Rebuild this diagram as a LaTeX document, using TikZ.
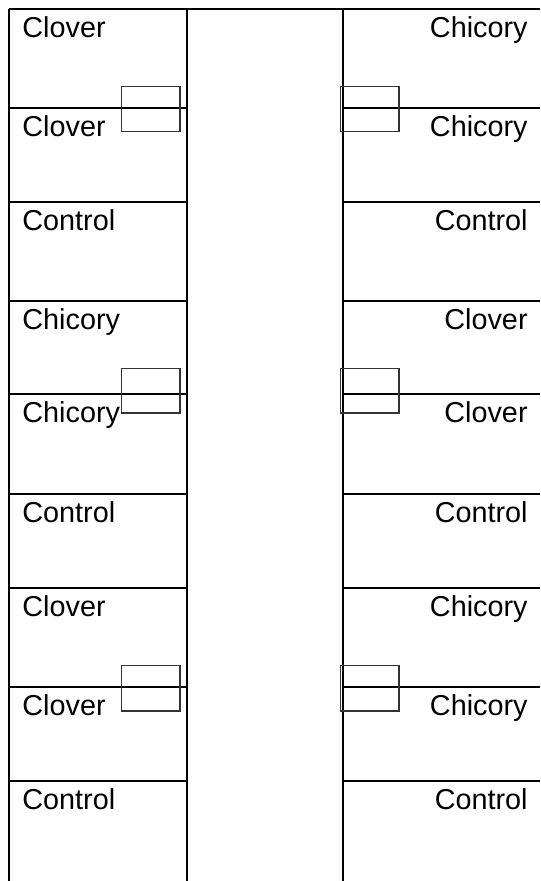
\documentclass[tikz,border=0pt]{standalone}
\usepackage{fontspec}
\setmainfont{Liberation Sans}
\usetikzlibrary{calc}

\begin{document}
\begin{tikzpicture}[x=0.5pt,y=-0.5pt,
  bed/.style={line width=1.1pt},
  cage/.style={line width=0.6pt, draw=black!80},
  plotlbl/.style={inner sep=0pt, font=\fontsize{14.4}{16}\selectfont}]
\useasboundingbox (0,0) rectangle (540,881);
% outline of the two strips
\coordinate (TL) at (8.7,8.7); \coordinate (TR) at (540,8.7);
\draw[bed] (TL)--(TR);
\draw[bed] (8.7,8.7)--(8.7,881); \draw[bed] (186.7,8.7)--(186.7,881); \draw[bed] (342.7,8.7)--(342.7,881);
% plot borders
\draw[bed] (8.7,108)--(186.7,108) (342.7,108)--(540,108);
\draw[bed] (8.7,202)--(186.7,202) (342.7,202)--(540,202);
\draw[bed] (8.7,300.7)--(186.7,300.7) (342.7,300.7)--(540,300.7);
\draw[bed] (8.7,394.3)--(186.7,394.3) (342.7,394.3)--(540,394.3);
\draw[bed] (8.7,494)--(186.7,494) (342.7,494)--(540,494);
\draw[bed] (8.7,587.7)--(186.7,587.7) (342.7,587.7)--(540,587.7);
\draw[bed] (8.7,686.7)--(186.7,686.7) (342.7,686.7)--(540,686.7);
\draw[bed] (8.7,780.7)--(186.7,780.7) (342.7,780.7)--(540,780.7);
% small boxes
\draw[cage] (121.7,86.7) rectangle (180,131.7); \draw[cage] (340.7,86.7) rectangle (399,131.7);
\draw[cage] (121.7,368.3) rectangle (180,413); \draw[cage] (340.7,368.3) rectangle (399,413);
\draw[cage] (121.7,665.7) rectangle (180,711); \draw[cage] (340.7,665.7) rectangle (399,711);
% left strip
\node[plotlbl, anchor=base west] (L1) at (22,37.2) {Clover};
\node[plotlbl, anchor=base west] (L2) at (22,136.5) {Clover};
\node[plotlbl, anchor=base west] (L3) at (22,230.5) {Control};
\node[plotlbl, anchor=base west] (L4) at (22,329.2) {Chicory};
\node[plotlbl, anchor=base west] (L5) at (22,422.8) {Chicory};
\node[plotlbl, anchor=base west] (L6) at (22,522.5) {Control};
\node[plotlbl, anchor=base west] (L7) at (22,616.2) {Clover};
\node[plotlbl, anchor=base west] (L8) at (22,715.2) {Clover};
\node[plotlbl, anchor=base west] (L9) at (22,809.2) {Control};
% right strip
\node[plotlbl, anchor=base east] (R1) at (528,37.2) {Chicory};
\node[plotlbl, anchor=base east] (R2) at (528,136.5) {Chicory};
\node[plotlbl, anchor=base east] (R3) at (528,230.5) {Control};
\node[plotlbl, anchor=base east] (R4) at (528,329.2) {Clover};
\node[plotlbl, anchor=base east] (R5) at (528,422.8) {Clover};
\node[plotlbl, anchor=base east] (R6) at (528,522.5) {Control};
\node[plotlbl, anchor=base east] (R7) at (528,616.2) {Chicory};
\node[plotlbl, anchor=base east] (R8) at (528,715.2) {Chicory};
\node[plotlbl, anchor=base east] (R9) at (528,809.2) {Control};
\end{tikzpicture}
\end{document}
